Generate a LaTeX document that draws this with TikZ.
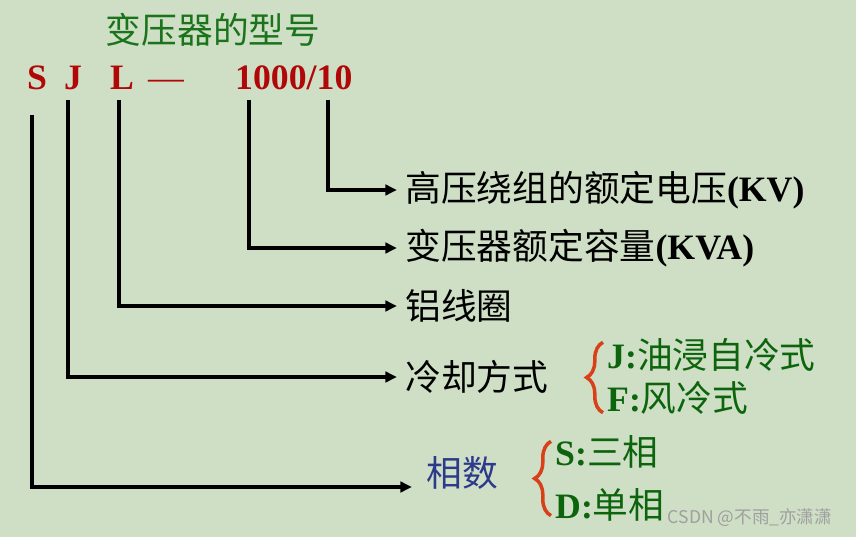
\documentclass[tikz,border=0pt]{standalone}
\usepackage{fontspec}
\setmainfont{Liberation Serif}
\newfontfamily\cjk{Noto Sans CJK SC}
\usepackage{xcolor}
\usepackage{tikz}
\usetikzlibrary{arrows.meta, calc, decorations.pathreplacing}
\definecolor{slidebg}{HTML}{CFDFC5}
\definecolor{codered}{HTML}{B00808}
\definecolor{titlegreen}{HTML}{1B741B}
\definecolor{optgreen}{HTML}{0C640C}
\definecolor{phaseblue}{HTML}{2C3A8C}
\definecolor{bracered}{HTML}{D8401A}
\newcommand{\bigtxt}{\fontsize{30.5}{36}\selectfont}

\tikzset{
  codechar/.style={text=codered, font=\bigtxt\bfseries, inner sep=0pt},
  lbl/.style={anchor=west, font=\bigtxt\cjk, inner xsep=7pt, inner ysep=0pt},
  opt/.style={anchor=west, text=optgreen, font=\bigtxt\cjk, inner sep=0pt},
  lead/.style={line width=3.2pt, -{Triangle[length=10pt,width=9pt]}},
  grp/.style={draw=bracered, line width=3pt, decorate, decoration={brace, amplitude=14pt}}
}

\begin{document}
\begin{tikzpicture}[x=0.03cm, y=-0.03cm]
    \fill[slidebg] (0,0) rectangle (856,537);
    \useasboundingbox (0,0) rectangle (856,537);

    % title
    \node[text=titlegreen, font=\bigtxt\cjk, inner sep=0pt] (title) at (213,30) {变压器的型号};

    % model code
    \node[codechar, anchor=base] (S) at (37,90) {S};
    \node[codechar, anchor=base] (J) at (73,90) {J};
    \node[codechar, anchor=base] (L) at (122,90) {L};
    \node[codechar, anchor=base west] (dash) at (148,90) {\mdseries ---};
    \node[codechar, anchor=base west] (rating) at (235,90) {1000/10};

    \coordinate (sTop) at (32,115);
    \coordinate (jTop) at (68,100);
    \coordinate (lTop) at (119,100);
    \coordinate (kvaTop) at (249,100);
    \coordinate (kvTop) at (328,100);

    % meanings
    \node[lbl] (kv) at (397,190) {高压绕组的额定电压{\rmfamily\bfseries(KV)}};
    \node[lbl] (kva) at (397,248) {变压器额定容量{\rmfamily\bfseries(KVA)}};
    \node[lbl] (coil) at (397,306) {铝线圈};
    \node[lbl] (cool) at (397,377) {冷却方式};
    \node[lbl, text=phaseblue, inner xsep=12pt] (phase) at (412,473) {相数};

    \draw[lead] (kvTop) |- (kv.west);
    \draw[lead] (kvaTop) |- (kva.west);
    \draw[lead] (lTop) |- (coil.west);
    \draw[lead] (jTop) |- (cool.west);
    \draw[lead] (sTop) |- ($(phase.west)+(0,14)$);

    % cooling options
    \node[opt] (optJ) at (607,355) {{\rmfamily\bfseries J:}油浸自冷式};
    \node[opt] (optF) at (607,398) {{\rmfamily\bfseries F:}风冷式};
    \draw[grp] ($(optF.south west)+(-4,-2)$) -- ($(optJ.north west)+(-4,4)$);

    % phase options
    \node[opt] (optS) at (555,452) {{\rmfamily\bfseries S:}三相};
    \node[opt] (optD) at (555,505) {{\rmfamily\bfseries D:}单相};
    \draw[grp] ($(optD.south west)+(-4,-6)$) -- ($(optS.north west)+(-4,6)$);

    % watermark
    \node[text=gray!75, font=\fontsize{15}{18}\selectfont\cjk, inner sep=0pt] (mark) at (750,518) {CSDN @不雨\_亦潇潇};
\end{tikzpicture}
\end{document}
